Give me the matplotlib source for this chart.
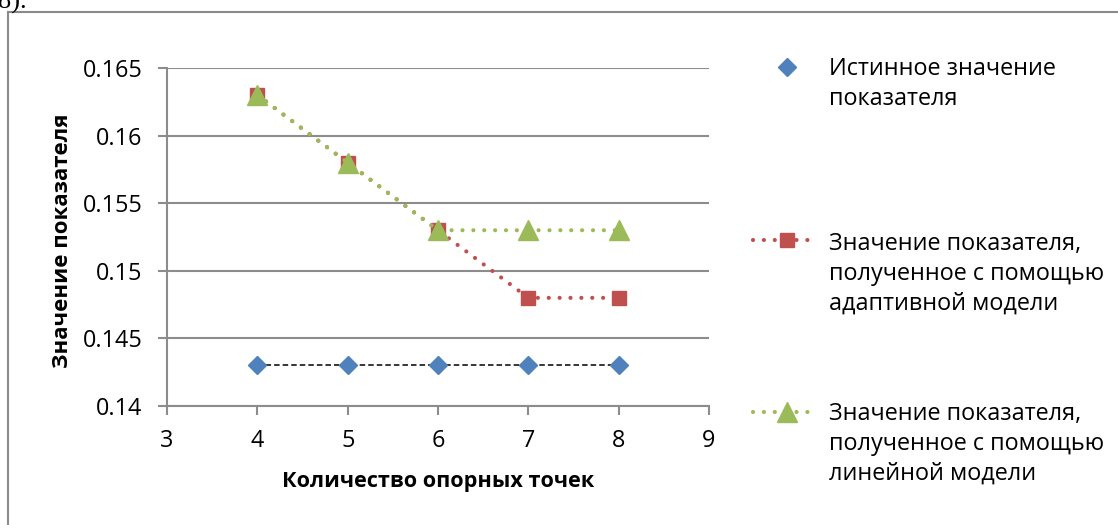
import matplotlib
matplotlib.use("Agg")
import matplotlib.pyplot as plt
from matplotlib.lines import Line2D
from matplotlib.patches import Rectangle

plt.rcParams['font.family'] = ['Open Sans', 'DejaVu Sans']

# Data
points = [4, 5, 6, 7, 8]
true_value = [0.143, 0.143, 0.143, 0.143, 0.143]
adaptive_model = [0.163, 0.158, 0.153, 0.148, 0.148]
linear_model = [0.163, 0.158, 0.153, 0.153, 0.153]

x_ticks = [3, 4, 5, 6, 7, 8, 9]
y_ticks = [0.14, 0.145, 0.15, 0.155, 0.16, 0.165]
y_tick_labels = ['0.14', '0.145', '0.15', '0.155', '0.16', '0.165']

labels = [
    ["Истинное значение", "показателя"],
    ["Значение показателя,", "полученное с помощью", "адаптивной модели"],
    ["Значение показателя,", "полученное с помощью", "линейной модели"],
]
x_label = "Количество опорных точек"
y_label = "Значение показателя"

BLUE = '#4F81BD'
RED = '#C0504D'
GREEN = '#9BBB59'
GRID = '#8C8C8C'
FS = 16.8

W, H = 1118, 525
fig = plt.figure(figsize=(W / 100, H / 100), dpi=100)
ax = fig.add_axes([167 / W, 1 - 406 / H, (709 - 167) / W, (406 - 68) / H])

dot_style = dict(linestyle=(0, (0.01, 2.6)), dash_capstyle='round', linewidth=3.0)
diamond = dict(marker='D', markersize=9.3, color=BLUE)
square = dict(marker='s', markersize=10.2, color=RED)
triangle = dict(marker='^', markersize=14.4, color=GREEN)

# true value: black dashed connector plus blue diamonds
ax.plot(points, true_value, color='black', linestyle=(0, (3.6, 2.0)), linewidth=1.1, zorder=3)
ax.plot(points, true_value, linestyle='none', zorder=4, **diamond)
ax.plot(points, adaptive_model, zorder=5, **square, **dot_style)
ax.plot(points, linear_model, zorder=6, **triangle, **dot_style)

ax.set_xlim(x_ticks[0], x_ticks[-1])
ax.set_ylim(y_ticks[0], y_ticks[-1])
ax.set_xticks(x_ticks)
ax.set_yticks(y_ticks)
ax.set_yticklabels(y_tick_labels)
ax.grid(axis='y', color=GRID, linewidth=1.5)
ax.set_axisbelow(True)
for side in ('top', 'right'):
    ax.spines[side].set_visible(False)
for side in ('left', 'bottom'):
    ax.spines[side].set_color(GRID)
    ax.spines[side].set_linewidth(1.5)
ax.tick_params(axis='both', direction='out', length=6.5, width=1.5, color=GRID,
               labelsize=FS, labelcolor='black')
ax.tick_params(axis='x', pad=10)
ax.tick_params(axis='y', pad=11)

fig.text(438 / W, 1 - 481 / H, x_label, ha='center', va='center',
         fontsize=15.6, fontweight='bold')
fig.text(63 / W, 1 - 241 / H, y_label, ha='center', va='center',
         rotation=90, fontsize=16.0, fontweight='bold')

# legend drawn by hand on the right
tf = fig.transFigure
text_x = 829 / W
mark_x = 787 / W
line_step = 30
entries = [
    (75, 67, diamond, None),
    (250, 240, square, dot_style),
    (420, 412, triangle, dot_style),
]
for (base, my, mk, ls), lines in zip(entries, labels):
    if ls is not None:
        fig.add_artist(Line2D([753 / W, 815 / W], [1 - my / H] * 2, transform=tf,
                              color=mk['color'], **ls))
    fig.add_artist(Line2D([mark_x], [1 - my / H], transform=tf,
                          linestyle='none', **mk))
    for i, txt in enumerate(lines):
        fig.text(text_x, 1 - (base + i * line_step) / H, txt, ha='left',
                 va='baseline', fontsize=FS)

# chart frame
fig.add_artist(Rectangle((8 / W, -0.1), 1.2, 1 - 12 / H + 0.1, transform=tf,
                         fill=False, edgecolor='#8A8A8A', linewidth=1.5))
fig.text(-2 / W, 1 - 9 / H, "8).", ha='left', va='baseline', fontsize=19,
         family=['Liberation Serif', 'DejaVu Serif'])

fig.savefig('out.png', dpi=100)
